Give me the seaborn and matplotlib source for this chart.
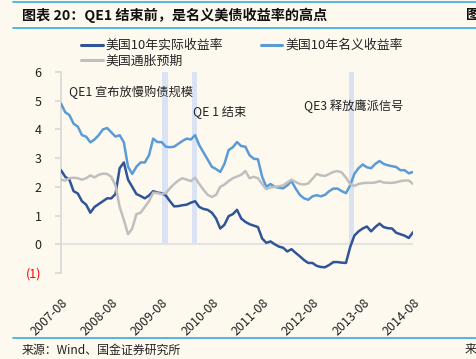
import numpy as np
import pandas as pd
import matplotlib
matplotlib.use('Agg')
import matplotlib.pyplot as plt
import seaborn as sns

# monthly series, 2007-08 .. 2014-08
real_yield = [2.58, 2.35, 2.25, 1.85, 1.77, 1.5, 1.38, 1.1, 1.3, 1.4,
              1.5, 1.6, 1.6, 1.75, 2.65, 2.85, 2.25, 2.0, 1.75, 1.68,
              1.6, 1.7, 1.85, 1.8, 1.78, 1.7, 1.5, 1.32, 1.33, 1.36,
              1.38, 1.45, 1.5, 1.3, 1.23, 1.2, 1.1, 0.9, 0.55, 0.68,
              0.98, 1.05, 1.2, 0.9, 0.78, 0.7, 0.65, 0.6, 0.2, 0.05,
              0.1, 0.0, -0.08, -0.12, -0.25, -0.17, -0.3, -0.42, -0.55, -0.65,
              -0.65, -0.75, -0.79, -0.8, -0.72, -0.62, -0.62, -0.64, -0.65, -0.1,
              0.3, 0.45, 0.55, 0.62, 0.45, 0.6, 0.72, 0.6, 0.56, 0.55,
              0.4, 0.35, 0.3, 0.22, 0.42]
nominal_yield = [4.9, 4.6, 4.5, 4.2, 4.1, 3.8, 3.75, 3.55, 3.65, 3.8,
                 4.0, 4.05, 3.9, 3.75, 3.8, 3.55, 2.7, 2.45, 2.7, 2.85,
                 2.85, 3.1, 3.68, 3.56, 3.56, 3.4, 3.38, 3.4, 3.5, 3.6,
                 3.68, 3.65, 3.8, 3.45, 3.2, 2.95, 2.7, 2.62, 2.52, 2.8,
                 3.28, 3.38, 3.56, 3.42, 3.4, 3.1, 2.98, 2.96, 2.35, 2.0,
                 2.1, 2.0, 1.97, 1.95, 2.05, 2.2, 1.94, 1.72, 1.6, 1.55,
                 1.67, 1.71, 1.67, 1.72, 1.85, 1.94, 1.94, 1.85, 1.78, 2.05,
                 2.45, 2.65, 2.78, 2.68, 2.65, 2.8, 2.9, 2.8, 2.75, 2.72,
                 2.69, 2.58, 2.58, 2.47, 2.52]
inflation_exp = [2.25, 2.22, 2.3, 2.32, 2.3, 2.25, 2.3, 2.4, 2.33, 2.42,
                 2.46, 2.45, 2.35, 2.05, 1.3, 0.85, 0.35, 0.55, 1.05, 1.1,
                 1.3, 1.5, 1.8, 1.78, 1.75, 1.78, 1.95, 2.1, 2.22, 2.3,
                 2.25, 2.2, 2.32, 2.1, 1.9, 1.72, 1.65, 1.72, 2.0, 2.08,
                 2.2, 2.3, 2.36, 2.42, 2.55, 2.3, 2.35, 2.3, 2.1, 1.92,
                 1.98, 2.0, 2.02, 2.05, 2.15, 2.25, 2.17, 2.1, 2.08, 2.12,
                 2.28, 2.45, 2.4, 2.38, 2.45, 2.52, 2.55, 2.5, 2.32, 2.1,
                 2.03, 2.1, 2.13, 2.14, 2.14, 2.15, 2.2, 2.15, 2.14, 2.14,
                 2.16, 2.2, 2.22, 2.22, 2.1]

tick_labels = ['2007-08', '2008-08', '2009-08', '2010-08',
               '2011-08', '2012-08', '2013-08', '2014-08']
series_names = ['美国10年实际收益率', '美国10年名义收益率', '美国通胀预期']
series_colors = ['#2f5597', '#5b9bd5', '#bfbfbf']

# event months (index from 2007-08) and their labels
event_months = [24.8, 31.8, 69.3]
event_labels = ['QE1 宣布放慢购债规模', 'QE 1 结束', 'QE3 释放鹰派信号']

month = np.arange(len(real_yield))
df = pd.DataFrame({'month': month,
                   series_names[0]: real_yield,
                   series_names[1]: nominal_yield,
                   series_names[2]: inflation_exp})
long_df = df.melt(id_vars='month', var_name='series', value_name='value')

bg = '#fdf9ef'
sns.set_theme(style='white')
plt.rcParams['font.family'] = ['Noto Sans CJK SC', 'DejaVu Sans']
plt.rcParams['figure.facecolor'] = bg
plt.rcParams['axes.facecolor'] = bg

fig = plt.figure(figsize=(4.76, 3.59), dpi=100)
ax = fig.add_axes([61 / 476, 1 - 273 / 359, 352 / 476, 201 / 359])

# shaded event bands, from 0 up to the top
for m in event_months:
    ax.axvspan(m - 0.65, m + 0.65, ymin=1 / 7, ymax=1, color='#dae3f3', lw=0, zorder=1)

ax.axhline(0, color='#e3e3e3', lw=1.5, zorder=1)

sns.lineplot(data=long_df, x='month', y='value', hue='series',
             hue_order=series_names, palette=series_colors,
             linewidth=1.8, ax=ax, legend=False, zorder=3)

ax.set_xlim(0, 84)
ax.set_ylim(-1, 6)
ax.set_xlabel('')
ax.set_ylabel('')
ax.set_yticks(range(-1, 7))
ax.set_yticklabels(['(1)'] + [str(v) for v in range(0, 7)], fontsize=9)
ax.set_xticks(range(0, 85, 12))
ax.set_xticklabels(tick_labels, rotation=45, ha='right', va='top',
                   rotation_mode='anchor', fontsize=9)
for sp in ['top', 'right', 'bottom']:
    ax.spines[sp].set_visible(False)
ax.spines['left'].set_color('#d9d9d9')
ax.tick_params(axis='y', left=True, length=4, color='#d9d9d9', pad=10, colors='#222222')
ax.tick_params(axis='x', bottom=False, pad=11, colors='#222222')
ax.get_yticklabels()[0].set_color('red')

# event notes
ax.text(2, 5.3, event_labels[0], fontsize=8.8, va='center', color='#222222')
ax.text(31.5, 4.63, event_labels[1], fontsize=8.8, va='center', color='#222222')
ax.text(58, 4.8, event_labels[2], fontsize=8.8, va='center', color='#222222')

# legend (column-major fill: real, inflation | nominal)
handles = [plt.Line2D([], [], color=c, lw=2.2) for c in series_colors]
order = [0, 2, 1]
fig.legend([handles[i] for i in order], [series_names[i] for i in order],
           ncol=2, frameon=False, fontsize=9.3,
           loc='upper left', bbox_to_anchor=(72 / 476, 1 - 30 / 359),
           handlelength=1.7, handletextpad=0.2, columnspacing=2.9,
           labelspacing=0.2, borderpad=0.2)

# title and frame lines
line_col = '#45b0e1'
fig.add_artist(plt.Line2D([13 / 476, 1], [1 - 2 / 359] * 2, color=line_col, lw=1.3))
fig.add_artist(plt.Line2D([13 / 476, 1], [1 - 28 / 359] * 2, color=line_col, lw=1.3))
fig.add_artist(plt.Line2D([13 / 476, 1], [1 - 338 / 359] * 2, color=line_col, lw=1.3))
fig.text(22 / 476, 1 - 15 / 359, '图表 20：QE1 结束前，是名义美债收益率的高点',
         fontsize=10.2, fontweight='bold', style='italic', va='center', color='#111111')
fig.text(466 / 476, 1 - 15 / 359, '图', fontsize=10.2, fontweight='bold', va='center', color='#111111')
fig.text(22 / 476, 1 - 350 / 359, '来源：Wind、国金证券研究所', fontsize=8.6, va='center', color='#222222')
fig.text(465 / 476, 1 - 350 / 359, '来', fontsize=8.6, va='center', color='#222222')

plt.savefig('out.png', dpi=100, facecolor=bg)
plt.close()
